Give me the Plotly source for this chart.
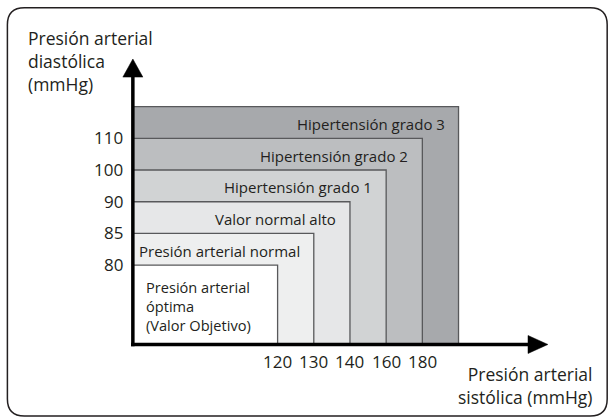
import plotly.graph_objects as go

# ---------------- data ----------------
categories = [
    "Presión arterial<br>óptima<br>(Valor Objetivo)",
    "Presión arterial normal",
    "Valor normal alto",
    "Hipertensión grado 1",
    "Hipertensión grado 2",
    "Hipertensión grado 3",
]
systolic_ticks = [120, 130, 140, 160, 180]   # mmHg, upper limits of the categories
diastolic_ticks = [80, 85, 90, 100, 110]     # mmHg, upper limits of the categories
fill_colors = ["#FFFFFF", "#EEEFEF", "#E6E7E8", "#D1D3D4", "#BCBEC0", "#A7A9AC"]

# ---------------- layout constants ----------------
W, H = 610, 418
UX, UY = 36.2, 31.7          # pixels per slot
X0PX, Y0PX = 133, 344        # pixel of origin
XMIN, XMAX = -0.3, 11.5
YMIN, YMAX = -0.3, 9.0
X_OFF = 4                    # first threshold slot on x
Y_OFF = 2.5                  # first threshold slot on y

ml = X0PX + XMIN * UX
mr = W - (X0PX + XMAX * UX)
mt = Y0PX - YMAX * UY
mb = H - (Y0PX - YMIN * UY)
PW = W - ml - mr
PH = H - mt - mb


def xp(px):
    return (px - ml) / PW


def yp(py):
    return (H - mb - py) / PH


FONT = "Open Sans"
TXT = "#231F20"
EDGE = "#58595B"

fig = go.Figure()
fig.add_trace(go.Scatter(x=[0], y=[0], mode="markers", marker=dict(opacity=0),
                         hoverinfo="skip", showlegend=False))

shapes = []
annotations = []

n = len(categories)
# rectangles, outermost first
for i in reversed(range(n)):
    xr = X_OFF + i
    yt = Y_OFF + i
    shapes.append(dict(type="rect", xref="x", yref="y", x0=0, x1=xr, y0=0, y1=yt,
                       fillcolor=fill_colors[i], line=dict(color=EDGE, width=1.3),
                       layer="above"))
    if i == 0:
        annotations.append(dict(x=0, y=yt / 2, xref="x", yref="y", text=categories[i],
                                showarrow=False, xanchor="left", yanchor="middle", align="left",
                                xshift=11, yshift=-1,
                                font=dict(family=FONT, size=14.6, color=TXT)))
    else:
        annotations.append(dict(x=xr, y=yt - 0.5, xref="x", yref="y", text=categories[i],
                                showarrow=False, xanchor="right", yanchor="middle",
                                xshift=-12, yshift=-1.5,
                                font=dict(family=FONT, size=15, color=TXT)))

# tick labels
for j, v in enumerate(systolic_ticks):
    annotations.append(dict(x=X_OFF + j, y=0, xref="x", yref="y", text=str(v),
                            showarrow=False, xanchor="center", yanchor="middle",
                            yshift=-17, xshift=0,
                            font=dict(family=FONT, size=17, color=TXT)))
for j, v in enumerate(diastolic_ticks):
    annotations.append(dict(x=0, y=Y_OFF + j, xref="x", yref="y", text=str(v),
                            showarrow=False, xanchor="right", yanchor="middle",
                            xshift=-8, yshift=0.5,
                            font=dict(family=FONT, size=17, color=TXT)))

# axes with arrows
shapes.append(dict(type="line", xref="x", yref="y", x0=0, x1=0, y0=-0.055, y1=8.5,
                   line=dict(color="#000000", width=3.5), layer="above"))
shapes.append(dict(type="line", xref="x", yref="y", x0=-0.05, x1=10.95, y0=0, y1=0,
                   line=dict(color="#000000", width=3.5), layer="above"))
shapes.append(dict(type="path", xref="x", yref="y",
                   path=f"M {-10/UX},{8.43} L {10/UX},{8.43} L 0,{9.0} Z",
                   fillcolor="#000000", line=dict(color="#000000", width=0.5), layer="above"))
shapes.append(dict(type="path", xref="x", yref="y",
                   path=f"M {10.92},{-9/UY} L {10.92},{9/UY} L {11.47},0 Z",
                   fillcolor="#000000", line=dict(color="#000000", width=0.5), layer="above"))

# axis titles
annotations.append(dict(x=xp(26), y=yp(24), xref="paper", yref="paper",
                        text="Presión arterial<br>diastólica<br>(mmHg)", showarrow=False,
                        xanchor="left", yanchor="top", align="left",
                        font=dict(family=FONT, size=17.5, color=TXT)))
annotations.append(dict(x=xp(594), y=yp(360), xref="paper", yref="paper",
                        text="Presión arterial<br>sistólica (mmHg)", showarrow=False,
                        xanchor="right", yanchor="top", align="right",
                        font=dict(family=FONT, size=17.5, color=TXT)))

# rounded frame
l, r, t, b, rad = 7.5, 607.5, 7.5, 415.5, 17
pts = [
    ("M", l + rad, t), ("L", r - rad, t), ("Q", r, t, r, t + rad), ("L", r, b - rad),
    ("Q", r, b, r - rad, b), ("L", l + rad, b), ("Q", l, b, l, b - rad), ("L", l, t + rad),
    ("Q", l, t, l + rad, t),
]
path = ""
for p in pts:
    cmd = p[0]
    coords = p[1:]
    s = " ".join(f"{xp(coords[k]):.5f},{yp(coords[k+1]):.5f}" for k in range(0, len(coords), 2))
    path += f"{cmd} {s} "
path += "Z"
shapes.append(dict(type="path", xref="paper", yref="paper", path=path,
                   line=dict(color="#231F20", width=1.5), layer="above"))

fig.update_layout(
    width=W, height=H, autosize=False,
    margin=dict(l=ml, r=mr, t=mt, b=mb, pad=0),
    paper_bgcolor="#FFFFFF", plot_bgcolor="#FFFFFF",
    xaxis=dict(range=[XMIN, XMAX], visible=False, fixedrange=True),
    yaxis=dict(range=[YMIN, YMAX], visible=False, fixedrange=True),
    shapes=shapes, annotations=annotations, showlegend=False,
)

fig.write_html("out.html", config={"displayModeBar": False},
               post_script="document.body.style.margin='0';document.body.style.overflow='hidden';")
